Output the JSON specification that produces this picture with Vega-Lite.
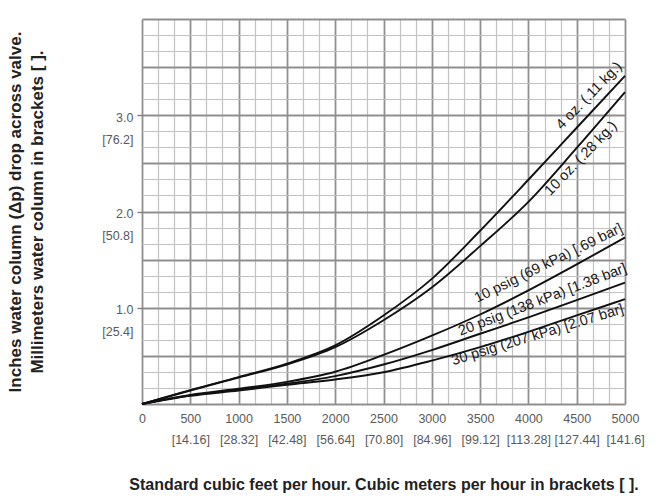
{
  "$schema": "https://vega.github.io/schema/vega-lite/v6.json",
  "width": 483,
  "height": 385,
  "autosize": "none",
  "padding": {"left": 142, "top": 19, "right": 42, "bottom": 95},
  "background": "white",
  "config": {
    "view": {"stroke": null},
    "font": "Liberation Sans"
  },
  "datasets": {
    "curves": [
      {"series": "4 oz", "x": 0, "y": 0}, {"series": "4 oz", "x": 500, "y": 0.145}, {"series": "4 oz", "x": 1000, "y": 0.28}, {"series": "4 oz", "x": 1500, "y": 0.42}, {"series": "4 oz", "x": 2000, "y": 0.61}, {"series": "4 oz", "x": 2500, "y": 0.92}, {"series": "4 oz", "x": 3000, "y": 1.3}, {"series": "4 oz", "x": 3500, "y": 1.8}, {"series": "4 oz", "x": 4000, "y": 2.33}, {"series": "4 oz", "x": 4500, "y": 2.87}, {"series": "4 oz", "x": 5000, "y": 3.41},
      {"series": "10 oz", "x": 0, "y": 0}, {"series": "10 oz", "x": 500, "y": 0.14}, {"series": "10 oz", "x": 1000, "y": 0.275}, {"series": "10 oz", "x": 1500, "y": 0.41}, {"series": "10 oz", "x": 2000, "y": 0.59}, {"series": "10 oz", "x": 2500, "y": 0.87}, {"series": "10 oz", "x": 3000, "y": 1.21}, {"series": "10 oz", "x": 3500, "y": 1.64}, {"series": "10 oz", "x": 4000, "y": 2.1}, {"series": "10 oz", "x": 4500, "y": 2.66}, {"series": "10 oz", "x": 5000, "y": 3.24},
      {"series": "10 psig", "x": 0, "y": 0}, {"series": "10 psig", "x": 500, "y": 0.095}, {"series": "10 psig", "x": 1000, "y": 0.16}, {"series": "10 psig", "x": 1500, "y": 0.23}, {"series": "10 psig", "x": 2000, "y": 0.335}, {"series": "10 psig", "x": 2500, "y": 0.51}, {"series": "10 psig", "x": 3000, "y": 0.71}, {"series": "10 psig", "x": 3500, "y": 0.93}, {"series": "10 psig", "x": 4000, "y": 1.18}, {"series": "10 psig", "x": 4500, "y": 1.45}, {"series": "10 psig", "x": 5000, "y": 1.73},
      {"series": "20 psig", "x": 0, "y": 0}, {"series": "20 psig", "x": 500, "y": 0.09}, {"series": "20 psig", "x": 1000, "y": 0.15}, {"series": "20 psig", "x": 1500, "y": 0.21}, {"series": "20 psig", "x": 2000, "y": 0.29}, {"series": "20 psig", "x": 2500, "y": 0.41}, {"series": "20 psig", "x": 3000, "y": 0.56}, {"series": "20 psig", "x": 3500, "y": 0.73}, {"series": "20 psig", "x": 4000, "y": 0.9}, {"series": "20 psig", "x": 4500, "y": 1.08}, {"series": "20 psig", "x": 5000, "y": 1.26},
      {"series": "30 psig", "x": 0, "y": 0}, {"series": "30 psig", "x": 500, "y": 0.085}, {"series": "30 psig", "x": 1000, "y": 0.14}, {"series": "30 psig", "x": 1500, "y": 0.2}, {"series": "30 psig", "x": 2000, "y": 0.255}, {"series": "30 psig", "x": 2500, "y": 0.33}, {"series": "30 psig", "x": 3000, "y": 0.45}, {"series": "30 psig", "x": 3500, "y": 0.59}, {"series": "30 psig", "x": 4000, "y": 0.75}, {"series": "30 psig", "x": 4500, "y": 0.92}, {"series": "30 psig", "x": 5000, "y": 1.09}
    ],
    "labels": [
      {"series": "4 oz", "label": "4 oz. (.11 kg.)", "x": 4630, "y": 3.2},
      {"series": "10 oz", "label": "10 oz. (.28 kg.)", "x": 4545, "y": 2.55},
      {"series": "10 psig", "label": "10 psig (69 kPa) [.69 bar]", "x": 4209, "y": 1.46},
      {"series": "20 psig", "label": "20 psig (138 kPa) [1.38 bar]", "x": 4147, "y": 1.08},
      {"series": "30 psig", "label": "30 psig (207 kPa) [2.07 bar]", "x": 4096, "y": 0.715}
    ]
  },
  "layer": [
    {
      "data": {"name": "curves"},
      "mark": {"type": "line", "color": "#111111", "strokeWidth": 1.9, "interpolate": "monotone"},
      "encoding": {
        "x": {
          "field": "x", "type": "quantitative",
          "scale": {"domain": [0, 5000], "nice": false, "zero": false},
          "axis": {
            "values": [0,166.67,333.33,500,666.67,833.33,1000,1166.67,1333.33,1500,1666.67,1833.33,2000,2166.67,2333.33,2500,2666.67,2833.33,3000,3166.67,3333.33,3500,3666.67,3833.33,4000,4166.67,4333.33,4500,4666.67,4833.33,5000],
            "tickCount": 200,
            "format": "d",
            "domain": false,
            "ticks": false,
            "grid": true,
            "gridColor": {"condition": {"test": "abs(datum.value/500 - round(datum.value/500)) < 0.01", "value": "#8f8f8f"}, "value": "#c2c2c2"},
            "gridWidth": {"condition": {"test": "abs(datum.value/500 - round(datum.value/500)) < 0.01", "value": 1.8}, "value": 1.2},
            "labelExpr": "datum.value == 0 ? '0' : (abs(datum.value/500 - round(datum.value/500)) < 0.01 ? [datum.label, '[' + ['','14.16','28.32','42.48','56.64','70.80','84.96','99.12','113.28','127.44','141.6'][round(datum.value/500)] + ']'] : '')",
            "labelFontSize": 12.5,
            "labelColor": "#5a5a5a",
            "labelLineHeight": 21,
            "labelPadding": 8,
            "labelOverlap": false,
            "labelFlush": false,
            "title": "Standard cubic feet per hour. Cubic meters per hour in brackets [ ].",
            "titleFontSize": 16,
            "titleFontWeight": "bold",
            "titleColor": "#222222",
            "titlePadding": 31
          }
        },
        "y": {
          "field": "y", "type": "quantitative",
          "scale": {"domain": [0, 4], "nice": false},
          "axis": {
            "values": [0,0.1667,0.3333,0.5,0.6667,0.8333,1,1.1667,1.3333,1.5,1.6667,1.8333,2,2.1667,2.3333,2.5,2.6667,2.8333,3,3.1667,3.3333,3.5,3.6667,3.8333,4],
            "tickCount": 200,
            "domain": false,
            "grid": true,
            "gridColor": {"condition": {"test": "abs(datum.value*2 - round(datum.value*2)) < 0.01", "value": "#8f8f8f"}, "value": "#c2c2c2"},
            "gridWidth": {"condition": {"test": "abs(datum.value*2 - round(datum.value*2)) < 0.01", "value": 1.8}, "value": 1.2},
            "ticks": true,
            "tickSize": 5,
            "tickColor": "#777777",
            "tickWidth": 1.3,
            "tickOpacity": {"condition": {"test": "abs(datum.value-1)<0.01 || abs(datum.value-2)<0.01 || abs(datum.value-3)<0.01", "value": 1}, "value": 0},
            "labelExpr": "abs(datum.value-1)<0.01 ? ['1.0','[25.4]'] : abs(datum.value-2)<0.01 ? ['2.0','[50.8]'] : abs(datum.value-3)<0.01 ? ['3.0','[76.2]'] : ''",
            "labelBaseline": "top",
            "labelOffset": -4,
            "labelFontSize": 12.5,
            "labelColor": "#5a5a5a",
            "labelLineHeight": 22,
            "labelPadding": 4,
            "labelOverlap": false,
            "labelFlush": false,
            "title": ["Inches water column (Δp) drop across valve.", "Millimeters water column in brackets [ ]."],
            "titleFontSize": 17,
            "titleFontWeight": "bold",
            "titleColor": "#222222",
            "titleLineHeight": 22,
            "titlePadding": 55
          }
        },
        "detail": {"field": "series", "type": "nominal"}
      }
    },
    {
      "data": {"name": "labels"},
      "transform": [{"filter": "datum.series == '4 oz'"}],
      "mark": {"type": "text", "angle": -46, "fontSize": 14.5, "baseline": "middle", "color": "#1a1a1a"},
      "encoding": {"x": {"field": "x", "type": "quantitative"}, "y": {"field": "y", "type": "quantitative"}, "text": {"field": "label"}}
    },
    {
      "data": {"name": "labels"},
      "transform": [{"filter": "datum.series == '10 oz'"}],
      "mark": {"type": "text", "angle": -46, "fontSize": 14.5, "baseline": "middle", "color": "#1a1a1a"},
      "encoding": {"x": {"field": "x", "type": "quantitative"}, "y": {"field": "y", "type": "quantitative"}, "text": {"field": "label"}}
    },
    {
      "data": {"name": "labels"},
      "transform": [{"filter": "datum.series == '10 psig'"}],
      "mark": {"type": "text", "angle": -26, "fontSize": 14.5, "baseline": "middle", "color": "#1a1a1a"},
      "encoding": {"x": {"field": "x", "type": "quantitative"}, "y": {"field": "y", "type": "quantitative"}, "text": {"field": "label"}}
    },
    {
      "data": {"name": "labels"},
      "transform": [{"filter": "datum.series == '20 psig'"}],
      "mark": {"type": "text", "angle": -21, "fontSize": 14.5, "baseline": "middle", "color": "#1a1a1a"},
      "encoding": {"x": {"field": "x", "type": "quantitative"}, "y": {"field": "y", "type": "quantitative"}, "text": {"field": "label"}}
    },
    {
      "data": {"name": "labels"},
      "transform": [{"filter": "datum.series == '30 psig'"}],
      "mark": {"type": "text", "angle": -17, "fontSize": 14.5, "baseline": "middle", "color": "#1a1a1a"},
      "encoding": {"x": {"field": "x", "type": "quantitative"}, "y": {"field": "y", "type": "quantitative"}, "text": {"field": "label"}}
    }
  ]
}
